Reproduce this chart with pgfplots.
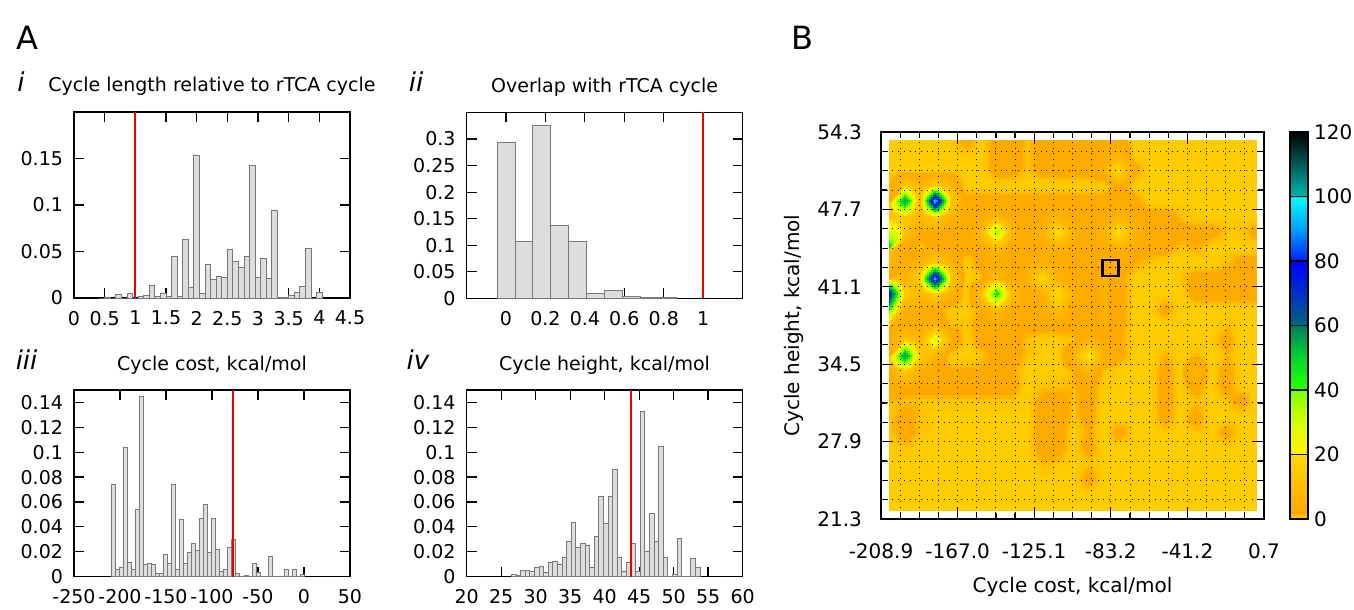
\documentclass[border=0pt]{standalone}
\usepackage{fontspec}
\setmainfont{DejaVu Sans}
\usepackage{pgfplots}
\usepgfplotslibrary{patchplots}
\pgfplotsset{compat=1.18}
\newcommand{\fs}{\fontsize{9.5}{11}\selectfont}
\newcommand{\fsh}{\fontsize{10}{12}\selectfont}
\definecolor{barfill}{RGB}{221,221,221}
\definecolor{baredge}{RGB}{120,120,120}
\definecolor{redl}{RGB}{235,0,0}
\pgfplotsset{
  /pgf/number format/assume math mode=true,
  gpstyle/.style={
    scale only axis,
    axis line style={line width=0.6pt},
    tick style={black, line width=0.6pt},
    tick align=inside,
    tick pos=both,
    major tick length=5pt,
    minor tick length=2.5pt,
    tick label style={font=\fs},
    label style={font=\fs},
    title style={font=\fs, at={(0.5,1)}, anchor=base, yshift=4pt},
    scaled ticks=false,
  },
  histo/.style={gpstyle, width=138pt, height=93pt, ymin=0,
    yticklabel style={/pgf/number format/fixed, /pgf/number format/precision=2, xshift=-2pt},
    xticklabel style={/pgf/number format/fixed, /pgf/number format/precision=1, yshift=-3pt}},
  histbar/.style={ybar interval, fill=barfill, draw=baredge, line width=0.45pt},
  redline/.style={sharp plot, mark=none, color=redl, draw=redl, fill=none, line width=1pt},
}
\begin{document}
\begin{tikzpicture}
\useasboundingbox (0,0) rectangle (677pt,-305pt);

\node[anchor=base west, font=\fontsize{16}{16}\selectfont] at (4.5pt,-25pt) {A};
\node[anchor=base west, font=\fontsize{16}{16}\selectfont] at (392pt,-25pt) {B};
\node[anchor=base, font=\itshape\fontsize{13}{13}\selectfont] at (10.5pt,-46pt) {i};
\node[anchor=base, font=\itshape\fontsize{13}{13}\selectfont] at (208pt,-46pt) {ii};
\node[anchor=base, font=\itshape\fontsize{13}{13}\selectfont] at (13.3pt,-184.5pt) {iii};
\node[anchor=base, font=\itshape\fontsize{13}{13}\selectfont] at (209pt,-184.5pt) {iv};

% ---- i
\begin{axis}[histo, at={(37pt,-149pt)}, anchor=south west,
  xmin=0, xmax=4.5, ymax=0.2,
  xtick={0,0.5,1,1.5,2,2.5,3,3.5,4,4.5}, ytick={0,0.05,0.1,0.15},
  title={Cycle length relative to rTCA cycle}]
\addplot[histbar] coordinates {(0.4091,0) (0.5,0.001) (0.5909,0) (0.6818,0.004) (0.7727,0) (0.8636,0.005) (0.9545,0) (1.0455,0.002) (1.1364,0.003) (1.2273,0.014) (1.3182,0.002) (1.4091,0.005) (1.5,0.0015) (1.5909,0.0444) (1.6818,0.0015) (1.7727,0.0634) (1.8636,0.011) (1.9545,0.1538) (2.0455,0.005) (2.1364,0.0358) (2.2273,0.0204) (2.3182,0.0237) (2.4091,0.0219) (2.5,0.0527) (2.5909,0.0398) (2.6818,0.033) (2.7727,0.0444) (2.8636,0.1423) (2.9545,0.0222) (3.0455,0.0427) (3.1364,0.0208) (3.2273,0.0939) (3.3182,0.001) (3.4091,0.001) (3.5,0.003) (3.5909,0.0065) (3.6818,0.012) (3.7727,0.0538) (3.8636,0) (3.9545,0.0065) (4.0455,0)};
\addplot[redline] coordinates {(1,0) (1,0.2)};
\end{axis}

% ---- ii
\begin{axis}[histo, at={(233.3pt,-149.2pt)}, anchor=south west,
  xmin=-0.2, xmax=1.2, ymax=0.35,
  xtick={0,0.2,0.4,0.6,0.8,1}, ytick={0,0.05,0.1,0.15,0.2,0.25,0.3},
  title={Overlap with rTCA cycle}]
\addplot[histbar] coordinates {(-0.0455,0.293) (0.0455,0.1067) (0.1364,0.325) (0.2273,0.1368) (0.3182,0.1067) (0.4091,0.0094) (0.5,0.015) (0.5909,0.0044) (0.6818,0.0025) (0.7727,0.002) (0.8636,0)};
\addplot[redline] coordinates {(1,0) (1,0.35)};
\end{axis}

% ---- iii
\begin{axis}[histo, at={(37pt,-288.3pt)}, anchor=south west, height=93.3pt,
  xmin=-250, xmax=50, ymax=0.15,
  xtick={-250,-200,-150,-100,-50,0,50}, ytick={0,0.02,0.04,0.06,0.08,0.1,0.12,0.14},
  title={Cycle cost, kcal/mol}]
\addplot[histbar] coordinates {(-209.80,0.0738) (-205.42,0.0057) (-201.04,0.007) (-196.66,0.104) (-192.28,0.011) (-187.90,0.006) (-183.52,0.054) (-179.14,0.145) (-174.76,0.0095) (-170.38,0.0103) (-166.00,0.0095) (-161.62,0.0027) (-157.24,0.0027) (-152.86,0.0176) (-148.48,0.0103) (-144.10,0.0738) (-139.72,0.006) (-135.34,0.046) (-130.96,0.0103) (-126.58,0.0195) (-122.20,0.027) (-117.82,0.021) (-113.44,0.0468) (-109.06,0.058) (-104.68,0.0197) (-100.30,0.0468) (-95.92,0.0216) (-91.54,0.004) (-87.16,0.0054) (-82.78,0.0238) (-78.40,0.030) (-74.02,0.0027) (-69.64,0.0005) (-65.26,0.001) (-60.88,0.0005) (-56.50,0.0103) (-52.12,0.0035) (-47.74,0.0005) (-43.36,0.0005) (-38.98,0.0165) (-34.60,0.0005) (-30.22,0.0005) (-25.84,0.0005) (-21.46,0.0057) (-17.08,0.0005) (-12.70,0.0057) (-8.32,0.0005) (-3.94,0.002) (0.44,0)};
\addplot[redline] coordinates {(-76.8,0) (-76.8,0.15)};
\end{axis}

% ---- iv
\begin{axis}[histo, at={(233.3pt,-288.3pt)}, anchor=south west, height=93.3pt,
  xmin=20, xmax=60, ymax=0.15,
  xtick={20,25,30,35,40,45,50,55,60}, ytick={0,0.02,0.04,0.06,0.08,0.1,0.12,0.14},
  title={Cycle height, kcal/mol}]
\addplot[histbar] coordinates {(26.52,0.002) (27.19,0.001) (27.85,0.005) (28.52,0.005) (29.18,0.004) (29.85,0.007) (30.52,0.008) (31.18,0.003) (31.85,0.011) (32.51,0.012) (33.18,0.0095) (33.85,0.0157) (34.51,0.0286) (35.18,0.0435) (35.84,0.0238) (36.51,0.027) (37.18,0.025) (37.84,0.007) (38.51,0.0324) (39.17,0.0643) (39.84,0.0427) (40.51,0.0643) (41.17,0.0865) (41.84,0.0157) (42.50,0.004) (43.17,0.011) (43.84,0.027) (44.50,0.004) (45.17,0.133) (45.83,0.0205) (46.50,0.0508) (47.17,0.0286) (47.83,0.1049) (48.50,0.0151) (49.16,0.0005) (49.83,0.0015) (50.50,0.031) (51.16,0.0005) (51.83,0.0005) (52.49,0.0143) (53.16,0.007) (53.83,0)};
\addplot[redline] coordinates {(43.8,0) (43.8,0.15)};
\end{axis}

% ---- B heatmap
\begin{axis}[gpstyle, at={(440.5pt,-259.5pt)}, anchor=south west,
  width=191.5pt, height=193.5pt,
  xmin=-208.9, xmax=0.7, ymin=21.3, ymax=54.3,
  xtick={-208.9,-166.98,-125.06,-83.14,-41.22,0.7},
  xticklabels={-208.9,-167.0,-125.1,-83.2,-41.2,0.7},
  ytick={21.3,27.9,34.5,41.1,47.7,54.3},
  yticklabels={21.3,27.9,34.5,41.1,47.7,54.3},
  minor x tick num=3, minor y tick num=3,
  major tick length=6pt, minor tick length=3.2pt,
  grid=both,
  major grid style={black, line width=0.45pt, dash pattern=on 0.45pt off 2.4pt},
  minor grid style={black, line width=0.45pt, dash pattern=on 0.45pt off 2.4pt},
  axis on top,
  xticklabel style={font=\fsh, yshift=-9pt},
  yticklabel style={font=\fsh, xshift=-6pt},
  xlabel={Cycle cost, kcal/mol}, ylabel={Cycle height, kcal/mol},
  xlabel style={font=\fsh, at={(axis description cs:0.5,-0.176)}, anchor=center},
  ylabel style={font=\fsh, at={(axis description cs:-0.227,0.5)}, anchor=center},
  colormap={gpm}{rgb255(0pt)=(255,205,0); rgb255(2pt)=(255,196,0); rgb255(4pt)=(255,168,0); rgb255(39pt)=(255,215,0); rgb255(41pt)=(255,242,0); rgb255(60pt)=(215,255,0); rgb255(79pt)=(130,255,0); rgb255(81pt)=(40,255,0); rgb255(100pt)=(0,215,50); rgb255(119pt)=(0,130,95); rgb255(121pt)=(0,100,125); rgb255(140pt)=(0,50,200); rgb255(159pt)=(0,0,255); rgb255(161pt)=(0,40,255); rgb255(180pt)=(0,160,255); rgb255(199pt)=(0,250,255); rgb255(201pt)=(0,175,175); rgb255(240pt)=(0,0,0)},
  point meta min=0, point meta max=120,
  colorbar,
  colorbar style={
    at={(parent axis.north east)}, anchor=north west, xshift=4.5pt,
    scale only axis, width=9pt, height=193.5pt,
    ytick={0,20,40,60,80,100,120},
    ytick pos=right, yticklabel pos=right,
    tick align=inside, major tick length=9pt,
    tick style={black, line width=0.6pt},
    axis line style={line width=0.6pt},
    yticklabel style={font=\fsh, xshift=-0.5pt},
  },
]
\addplot[surf, shader=interp, patch type=bilinear, mesh/cols=25, point meta=\thisrow{z}]
 table[row sep=\\, x expr={-204.5+8.383*mod(\coordindex,25)}, y expr={22.0+1.317*floor(\coordindex/25)}] {
z\\
0\\0\\0\\0\\0\\0\\0\\0\\0\\0\\0\\0\\0\\0\\0\\0\\0\\0\\0\\0\\0\\0\\0\\0\\0\\
0\\0\\0\\0\\0\\0\\0\\0\\0\\0\\0\\0\\0\\0\\0\\0\\0\\0\\0\\0\\0\\0\\0\\0\\0\\
0\\0\\0\\0\\0\\0\\0\\0\\0\\0\\0\\0\\0\\3\\0\\0\\0\\0\\0\\0\\0\\0\\0\\0\\0\\
0\\0\\0\\0\\0\\0\\0\\0\\0\\0\\1.5\\1\\0\\1\\0\\0\\0\\0\\0\\0\\0\\0\\0\\0\\0\\
0\\1\\0\\0\\0\\0\\0\\0\\0\\0\\3\\3\\0\\3\\0\\0\\0\\0\\0\\0\\0\\0\\0\\0\\0\\
1\\3\\1\\0\\0\\0\\0\\0\\0\\0\\3\\3\\0\\2\\0\\3\\0\\0\\0.5\\0\\1\\0\\3\\0\\0\\
1\\3\\1\\0\\0\\0\\0\\0\\0\\0\\3\\3\\1\\3\\0\\0\\0\\0\\3\\0\\3\\0\\0\\0\\0\\
1\\1\\1\\1\\1\\1\\1\\1\\1\\0\\3\\3\\1\\3\\0\\0\\0\\0\\3\\0\\1\\0\\1\\3\\0\\
3\\3\\3\\3\\3\\3\\3\\3\\3\\0\\1\\1\\1.5\\3\\0.5\\0\\0\\0\\3\\0\\3\\0\\3\\0\\0\\
3\\15\\3\\3\\2\\2\\2\\2\\2\\0\\0\\0\\1.5\\6\\1\\0\\0\\0\\3\\0\\8\\0\\3\\0\\0\\
15\\60\\15\\6\\0\\0\\1\\3\\3\\1\\0\\0\\6\\22\\6\\3\\0\\0\\1.5\\0\\1.5\\0\\1.5\\0\\0\\
3\\15\\6\\30\\6\\0\\3\\3\\3\\1\\0\\0\\1\\6\\2\\2\\0\\0\\0\\0\\0\\0\\3\\0\\0\\
3\\3\\3\\6\\1\\1\\3\\3\\3\\3\\3\\3\\3\\3\\1.5\\3\\0\\0\\0\\0\\0\\0\\1\\0\\0\\
15\\6\\3\\3\\0\\0\\2\\10\\3\\3\\3\\10\\3\\3\\1.5\\3\\0\\0\\3\\0\\0\\0\\0\\0\\0\\
80\\15\\7\\15\\7\\0\\10\\48\\10\\3\\5\\20\\5\\3\\1.5\\3\\0\\0\\0\\0\\3\\3\\3\\3\\3\\
15\\6\\15\\95\\15\\0\\1\\10\\3\\5\\20\\5\\3\\3\\1.5\\3\\0\\0\\0\\1\\3\\3\\3\\3\\3\\
3\\3\\7\\15\\7\\0\\3\\3\\3\\3\\5\\3\\3\\3\\3\\3\\2\\1\\0\\0\\0\\0\\1\\3\\3\\
12\\3\\1\\3\\3\\3\\3\\8\\3\\3\\3\\6\\3\\3\\3\\6\\3\\3\\3\\1\\2\\0\\0\\0\\0\\
48\\12\\3\\3\\3\\3\\8\\36\\8\\3\\6\\21\\6\\3\\6\\21\\6\\3\\3\\3\\3\\3\\1\\1\\3\\
12\\15\\7\\15\\7\\3\\3\\8\\3\\3\\3\\6\\3\\3\\3\\6\\3\\3\\3\\1\\0\\0\\0\\0\\0\\
15\\60\\8\\100\\15\\3\\3\\3\\3\\3\\3\\3\\3\\3\\3\\3\\3\\0\\0\\0\\0\\0\\0\\0\\0\\
2\\15\\7\\15\\7\\0\\0\\0\\0\\0\\0\\0\\0\\0\\0\\3\\0\\0\\0\\0\\0\\0\\0\\0\\0\\
0\\0\\0\\0\\0\\0\\0\\3\\3\\1\\3\\3\\3\\3\\6\\21\\3\\0\\0\\0\\0\\0\\0\\0\\0\\
0\\0\\0\\0\\0\\1\\0\\3\\3\\1\\3\\3\\3\\3\\3\\6\\0\\0\\0\\0\\0\\0\\0\\0\\0\\
0\\0\\0\\0\\1\\3\\0\\3\\3\\1\\3\\3\\3\\3\\3\\3\\0\\0\\0\\0\\0\\0\\0\\0\\0\\
};
\addplot[only marks, mark=square, mark size=4pt, mark options={black, line width=1.3pt, fill=none}] coordinates {(-83.2,42.7)};
\end{axis}
\end{tikzpicture}
\end{document}
